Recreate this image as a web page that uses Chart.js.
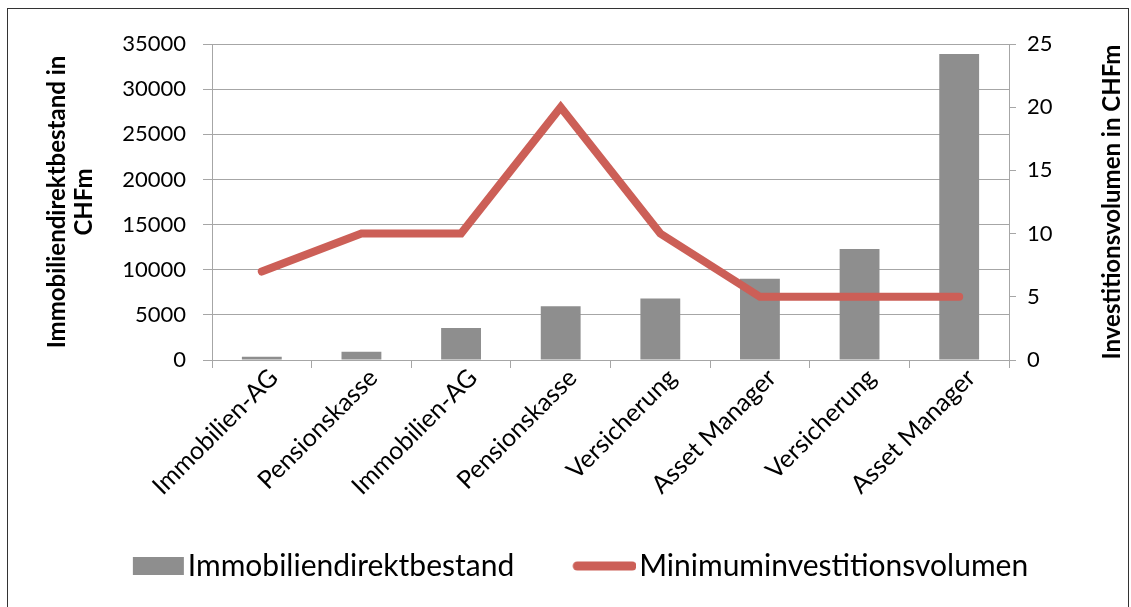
<!DOCTYPE html>
<html lang="de">
<head>
<meta charset="UTF-8" />
<title>Immobiliendirektbestand und Minimuminvestitionsvolumen</title>
<script src="https://cdn.jsdelivr.net/npm/chart.js"></script>
<style>
  body { margin: 0; background: #fff; }
  canvas { display: block; }
</style>
</head>
<body>
<canvas id="chart" width="1131" height="607"></canvas>
<script>
// Daten
const categories = ['Immobilien-AG', 'Pensionskasse', 'Immobilien-AG', 'Pensionskasse',
                    'Versicherung', 'Asset Manager', 'Versicherung', 'Asset Manager'];
const bestand = [350, 900, 3550, 5950, 6800, 9000, 12300, 33900];
const minInvest = [7, 10, 10, 20, 10, 5, 5, 5];
const seriesNames = ['Immobiliendirektbestand', 'Minimuminvestitionsvolumen'];
const leftTitle = ['Immobiliendirektbestand in', 'CHFm'];
const rightTitle = 'Investitionsvolumen in CHFm';

const BAR_COLOR = '#8e8e8e';
const LINE_COLOR = '#cc5f57';
const GRID_COLOR = '#a6a6a6';
const FONT = 'Lato, "Open Sans", sans-serif';

// Legenden-Symbole: rechtsbündig in einer breiten, links leeren Fläche,
// damit der Abstand zwischen den Einträgen stimmt
function swatch(kind) {
  const c = document.createElement('canvas');
  c.width = 124; c.height = 18;
  const g = c.getContext('2d');
  if (kind === 'bar') {
    g.fillStyle = BAR_COLOR;
    g.fillRect(72, 0, 51, 18);
  } else {
    g.strokeStyle = LINE_COLOR;
    g.lineWidth = 9;
    g.lineCap = 'round';
    g.beginPath();
    g.moveTo(65, 9);
    g.lineTo(120, 9);
    g.stroke();
  }
  return c;
}
const swatches = [swatch('bar'), swatch('line')];

const framePlugin = {
  id: 'frame',
  beforeDraw(chart) {
    const ctx = chart.ctx;
    ctx.save();
    ctx.fillStyle = '#fff';
    ctx.fillRect(0, 0, chart.width, chart.height);
    ctx.strokeStyle = '#333';
    ctx.lineWidth = 1;
    ctx.strokeRect(7.5, 8.5, 1121, 620);
    ctx.restore();
  },
  afterDraw(chart) {
    // rechter Achsentitel, von unten nach oben gelesen
    const ctx = chart.ctx;
    const area = chart.chartArea;
    ctx.save();
    ctx.translate(1112, (area.top + area.bottom) / 2);
    ctx.rotate(-Math.PI / 2);
    ctx.font = 'bold 24px ' + FONT;
    ctx.fillStyle = '#000';
    ctx.textAlign = 'center';
    ctx.textBaseline = 'middle';
    ctx.fillText(rightTitle, 0, 0);
    ctx.restore();
  }
};

const chart = new Chart(document.getElementById('chart'), {
  data: {
    labels: categories,
    datasets: [
      {
        type: 'bar',
        label: seriesNames[0],
        data: bestand,
        backgroundColor: BAR_COLOR,
        yAxisID: 'y',
        barPercentage: 0.4,
        categoryPercentage: 1,
        order: 2
      },
      {
        type: 'line',
        label: seriesNames[1],
        data: minInvest,
        borderColor: LINE_COLOR,
        backgroundColor: LINE_COLOR,
        borderWidth: 8,
        borderCapStyle: 'round',
        borderJoinStyle: 'miter',
        pointRadius: 0,
        tension: 0,
        yAxisID: 'y1',
        order: 1
      }
    ]
  },
  options: {
    responsive: false,
    animation: false,
    layout: { padding: { top: 44, left: 0, right: 30, bottom: 16 } },
    plugins: {
      tooltip: { enabled: false },
      legend: {
        position: 'bottom',
        labels: {
          usePointStyle: true,
          pointStyleWidth: 100,
          padding: 10,
          color: '#000',
          font: { family: FONT, size: 30 },
          sort: (a, b) => a.datasetIndex - b.datasetIndex,
          generateLabels(ch) {
            const items = Chart.defaults.plugins.legend.labels.generateLabels(ch);
            items.forEach(it => { it.pointStyle = swatches[it.datasetIndex]; });
            return items;
          }
        }
      }
    },
    scales: {
      x: {
        grid: { display: true, drawOnChartArea: false, tickLength: 8, color: GRID_COLOR },
        border: { color: GRID_COLOR },
        ticks: {
          color: '#000',
          font: { family: FONT, size: 25 },
          minRotation: 45,
          maxRotation: 45,
          labelOffset: 12,
          padding: -5
        },
        afterFit(s) { s.height = 181; }
      },
      y: {
        position: 'left',
        min: 0,
        max: 35000,
        grid: { color: GRID_COLOR, tickLength: 9 },
        border: { color: GRID_COLOR },
        ticks: {
          stepSize: 5000,
          color: '#000',
          padding: 17,
          font: { family: FONT, size: 22 },
          callback: v => String(v)
        },
        title: {
          display: true,
          text: leftTitle,
          color: '#000',
          font: { family: FONT, size: 24, weight: 'bold', lineHeight: 1.12 },
          padding: { top: 44, bottom: 0 }
        },
        afterFit(s) { s.width = 212; }
      },
      y1: {
        position: 'right',
        min: 0,
        max: 25,
        grid: { drawOnChartArea: false, color: GRID_COLOR, tickLength: 7 },
        border: { color: GRID_COLOR },
        ticks: {
          stepSize: 5,
          color: '#000',
          padding: 11,
          font: { family: FONT, size: 22 },
          callback: v => String(v)
        },
        afterFit(s) { s.width = 92; }
      }
    }
  },
  plugins: [framePlugin]
});
</script>
</body>
</html>
